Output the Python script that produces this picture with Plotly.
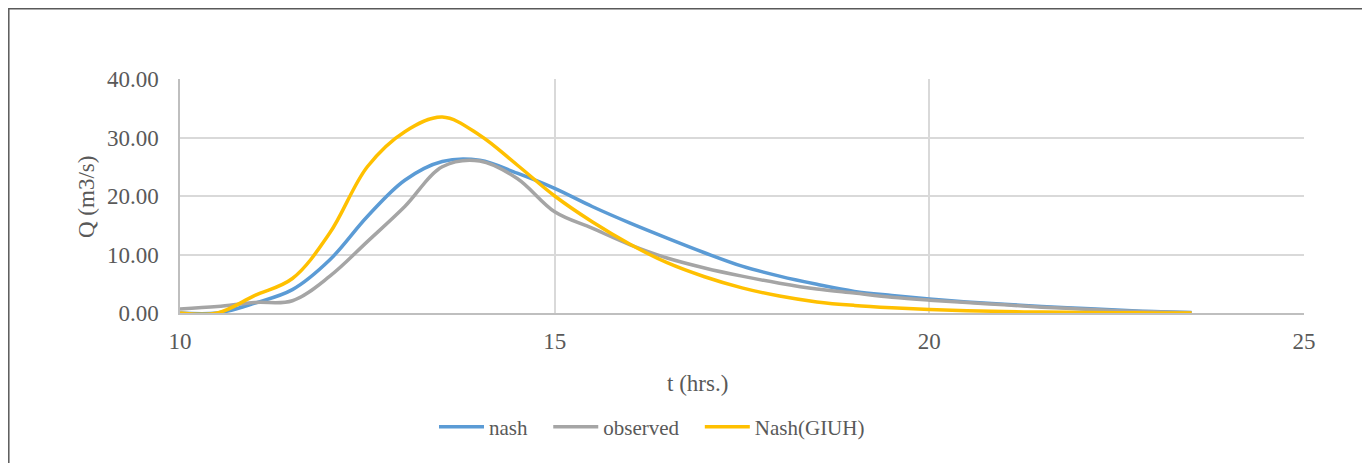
import plotly.graph_objects as go

t = [10, 10.5, 11, 11.5, 12, 12.5, 13, 13.5, 14, 14.5, 15, 15.5, 16, 16.5, 17, 17.5,
     18, 18.5, 19, 19.5, 20, 20.5, 21, 21.5, 22, 22.5, 23, 23.5]

nash = [0.0, 0.0, 1.7, 4.0, 9.1, 16.5, 22.7, 25.9, 26.1, 23.9, 21.3, 18.2, 15.4, 12.8,
        10.3, 8.0, 6.3, 4.9, 3.7, 3.0, 2.4, 1.9, 1.5, 1.1, 0.8, 0.5, 0.25, 0.1]

observed = [0.7, 1.1, 1.8, 2.1, 6.3, 12.2, 18.2, 25.0, 26.0, 23.0, 17.3, 14.5, 11.7, 9.4,
            7.7, 6.3, 5.1, 4.1, 3.4, 2.7, 2.2, 1.8, 1.4, 1.0, 0.7, 0.4, 0.2, 0.05]

giuh = [0.0, 0.0, 3.0, 5.9, 13.7, 25.0, 31.0, 33.5, 30.4, 25.3, 20.0, 15.6, 11.8, 8.6,
        6.2, 4.3, 2.9, 1.9, 1.3, 0.9, 0.6, 0.4, 0.25, 0.15, 0.1, 0.05, 0.02, 0.0]

series = [("nash", nash, "#5B9BD5"), ("observed", observed, "#A5A5A5"),
          ("Nash(GIUH)", giuh, "#FFC000")]

x_ticks = [10, 15, 20, 25]
y_ticks = [0, 10, 20, 30, 40]

FONT = "Liberation Serif, Times New Roman, serif"
TXT = "#595959"
PAD = "\u00a0\u00a0\u00a0"

fig = go.Figure()
for i, (name, vals, col) in enumerate(series):
    label = name + (PAD if i < len(series) - 1 else "")
    fig.add_trace(go.Scatter(x=t, y=vals, name=label, mode="lines",
                             line=dict(color=col, width=3.5, shape="spline", smoothing=1.0)))

# page has an 8px body margin; figure is placed at (8, 8)
OFF = 8
W, H = 1362, 455
L, T = 180 - OFF, 79 - OFF
pw, ph = 1124, 234
R = W - L - pw
B = H - T - ph

def px2x(px):
    return (px - OFF - L) / pw

def py2y(py):
    return (T + ph - (py - OFF)) / ph

fig.update_layout(
    width=W, height=H,
    margin=dict(l=L, r=R, t=T, b=B),
    paper_bgcolor="white", plot_bgcolor="white",
    font=dict(family=FONT, color=TXT, size=23),
    showlegend=True,
    legend=dict(orientation="h", x=px2x(434), xanchor="left", y=py2y(427), yanchor="middle",
                font=dict(family=FONT, size=21, color=TXT), itemwidth=45,
                bgcolor="rgba(0,0,0,0)"),
    xaxis=dict(range=[10, 25], tickvals=x_ticks, ticktext=[str(v) for v in x_ticks],
               showgrid=True, gridcolor="#D9D9D9", gridwidth=1.5,
               showline=True, linecolor="#BFBFBF", linewidth=1.5,
               zeroline=False, ticks="", ticklabelstandoff=7,
               tickfont=dict(family=FONT, size=23, color=TXT)),
    yaxis=dict(range=[0, 40], tickvals=y_ticks, ticktext=[f"{v:.2f}" for v in y_ticks],
               showgrid=True, gridcolor="#D9D9D9", gridwidth=1.5,
               showline=True, linecolor="#BFBFBF", linewidth=1.5,
               zeroline=False, ticks="", ticklabelstandoff=15,
               tickfont=dict(family=FONT, size=23, color=TXT)),
    annotations=[
        dict(text="t (hrs.)", xref="paper", yref="paper", x=px2x(697), y=py2y(383),
             xanchor="center", yanchor="middle", showarrow=False,
             font=dict(family=FONT, size=23, color=TXT)),
        dict(text="Q (m3/s)", xref="paper", yref="paper", x=px2x(86), y=py2y(197),
             xanchor="center", yanchor="middle", showarrow=False, textangle=-90,
             font=dict(family=FONT, size=23, color=TXT)),
    ],
    shapes=[
        dict(type="rect", xref="paper", yref="paper",
             x0=px2x(8.8), x1=px2x(1365), y0=py2y(470), y1=py2y(8.8),
             line=dict(color="#595959", width=1.5), fillcolor="rgba(0,0,0,0)", layer="below"),
    ],
)

fig.write_html("out.html")
